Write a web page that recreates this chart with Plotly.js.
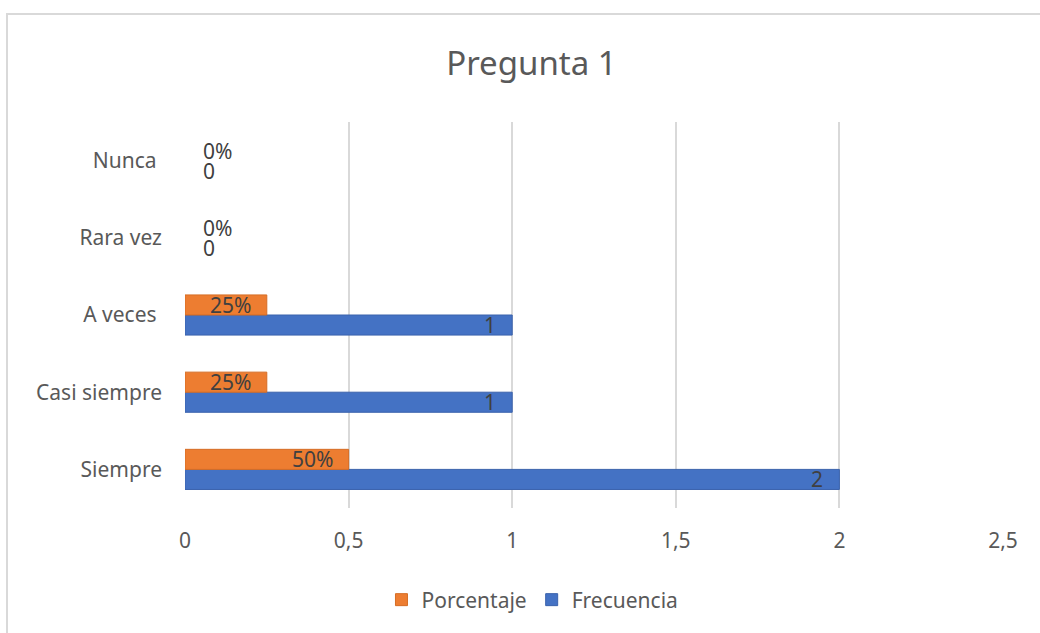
<!DOCTYPE html>
<html>
<head>
<meta charset="utf-8">
<script src="https://cdn.plot.ly/plotly-3.0.1.min.js"></script>
<style>
  html, body { margin:0; padding:0; background:#fff; overflow:hidden; }
  #wrap { position:relative; width:1040px; height:633px; }
  #chart { width:1040px; height:633px; }
  #frame { position:absolute; left:6px; top:13px; width:1100px; height:700px;
           border:2px solid #D9D9D9; box-sizing:border-box; pointer-events:none; }
</style>
</head>
<body>
<div id="wrap"><div id="chart"></div><div id="frame"></div></div>
<script>
const categories = ['Siempre', 'Casi siempre', 'A veces\u00a0', 'Rara vez', 'Nunca\u00a0'];
const frecuencia = [2, 1, 1, 0, 0];
const porcentaje = [0.5, 0.25, 0.25, 0, 0];
const frecuenciaLabels = ['2', '1', '1', '0', '0'];
const porcentajeLabels = ['50%', '25%', '25%', '0%', '0%'];
const xTicks = [0, 0.5, 1, 1.5, 2, 2.5];

const FONT = '"Noto Sans", "Open Sans", sans-serif';
const BLUE = '#4472C4', ORANGE = '#ED7D31';

const traces = [
  { type:'bar', orientation:'h', name:'Frecuencia', y:categories, x:frecuencia,
    marker:{ color:BLUE, line:{ color:'#3A62AC', width:frecuencia.map(v => v > 0 ? 1 : 0) } },
    hoverinfo:'x+y' },
  { type:'bar', orientation:'h', name:'Porcentaje', y:categories, x:porcentaje,
    marker:{ color:ORANGE, line:{ color:'#D56D25', width:porcentaje.map(v => v > 0 ? 1 : 0) } },
    hoverinfo:'x+y' }
];

const annotations = [];
function addLabels(vals, labels, shift) {
  vals.forEach((v, i) => {
    const pos = v > 0;
    annotations.push({
      x: v, y: categories[i], xref:'x', yref:'y', text: labels[i], showarrow:false,
      xanchor: pos ? 'right' : 'left', xshift: pos ? -14 : 16, yshift: shift,
      font:{ family:FONT, size:21, color:'#404040' }
    });
  });
}
addLabels(frecuencia, frecuenciaLabels, -10);
addLabels(porcentaje, porcentajeLabels, 10);

const layout = {
  width:1040, height:633,
  margin:{ l:185, r:37, t:122, b:125 },
  paper_bgcolor:'#fff', plot_bgcolor:'#fff',
  separators:',.',
  title:{ text:'Pregunta 1', x:0.511, xref:'container', y:1-63/633, yref:'container', yanchor:'middle',
          font:{ family:FONT, size:33, color:'#595959' } },
  barmode:'group', bargap:0.48, bargroupgap:0,
  xaxis:{ range:[0, 2.5], tickvals:xTicks, showgrid:true, gridcolor:'#D9D9D9', gridwidth:2,
          zeroline:false, showline:false, ticks:'', ticklabelstandoff:18,
          tickfont:{ family:FONT, size:21, color:'#595959' }, fixedrange:true },
  yaxis:{ type:'category', categoryorder:'array', categoryarray:categories,
          showgrid:false, zeroline:false, showline:false, ticks:'', ticklabelstandoff:22,
          tickfont:{ family:FONT, size:21, color:'#595959' }, fixedrange:true },
  showlegend:true,
  legend:{ orientation:'h', traceorder:'reversed', x:0.512, xref:'container', xanchor:'center',
           y:1-600/633, yref:'container', yanchor:'middle',
           font:{ family:FONT, size:21, color:'#595959' }, itemwidth:30 },
  annotations: annotations
};

Plotly.newPlot('chart', traces, layout, { displayModeBar:false });
</script>
</body>
</html>
